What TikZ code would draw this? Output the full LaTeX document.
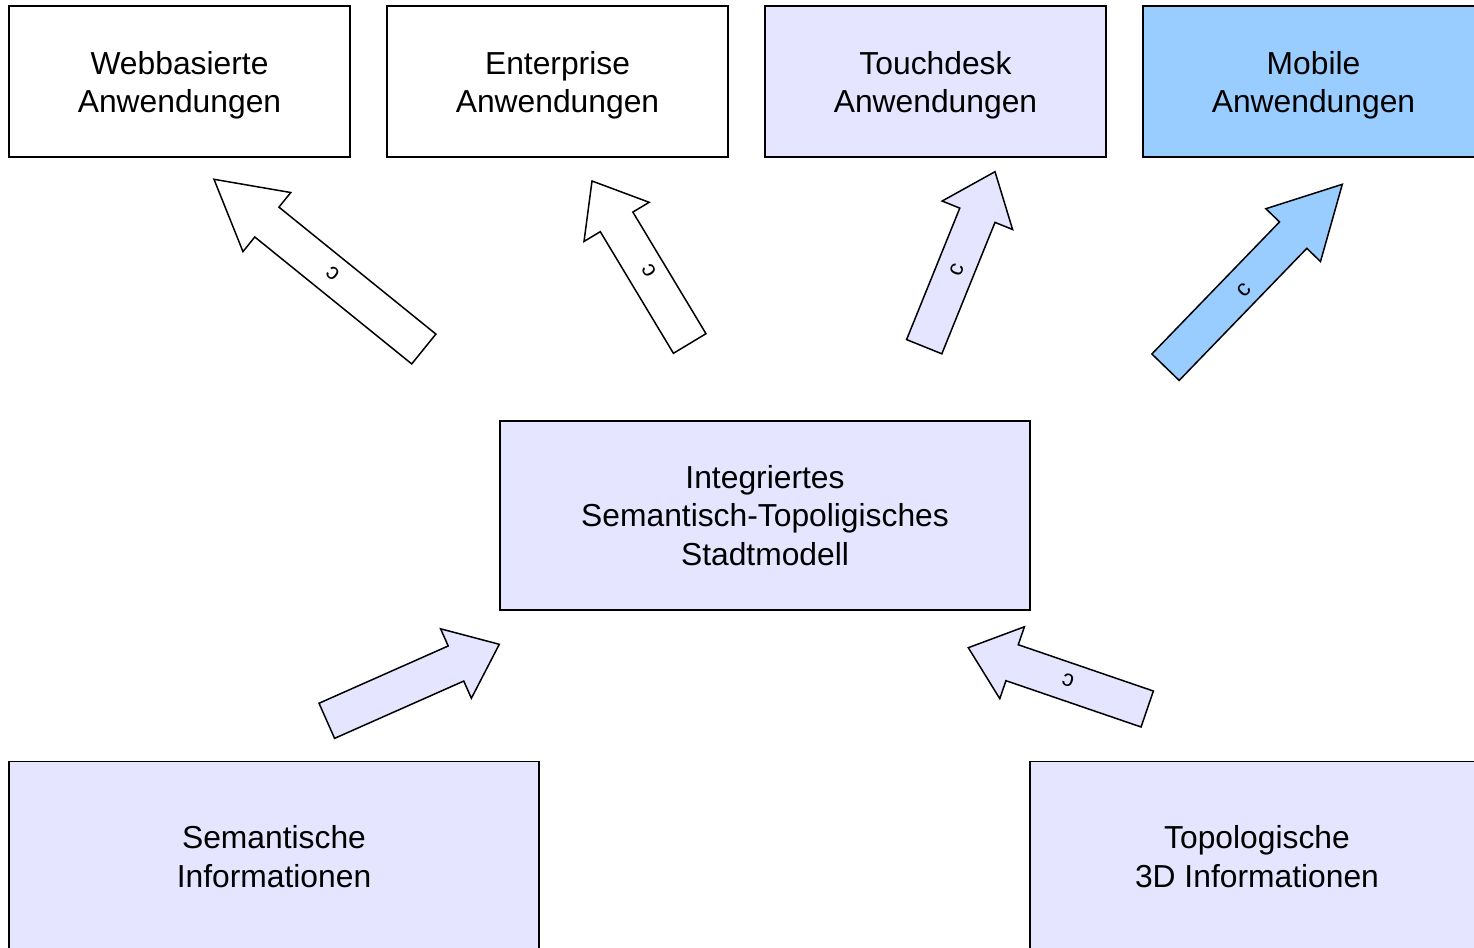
\documentclass[tikz,border=0pt]{standalone}
\usepackage{fontspec}
\setmainfont{Liberation Sans}
\usetikzlibrary{calc}
\definecolor{lav}{HTML}{E5E5FF}
\definecolor{sky}{HTML}{99CCFF}
\newcommand{\blockarr}[6]{%
  \coordinate (hb) at ($(#2)!#5!(#1)$);
  \draw[arrbody,fill=#6] ($(#1)!#3!90:(#2)$) -- ($(hb)!#3!90:(#2)$) -- ($(hb)!#4!90:(#2)$) -- (#2)
    -- ($(hb)!#4!-90:(#2)$) -- ($(hb)!#3!-90:(#2)$) -- ($(#1)!#3!-90:(#2)$) -- cycle;}
\newcommand{\topstrut}{\rule{0pt}{31pt}}
\begin{document}
\begin{tikzpicture}[x=1pt,y=-1pt,
  box/.style={draw=black,line width=1.5pt,align=center,inner sep=0pt,
    font=\fontsize{31.8}{38.5}\selectfont},
  topbox/.style={box,minimum width=341pt,minimum height=151pt},
  bigbox/.style={box,minimum height=190pt},
  arrbody/.style={draw=black,line width=1.5pt,line join=miter},
  lbl/.style={font=\fontsize{23}{25}\selectfont,inner sep=0pt}]
\useasboundingbox (0,0) rectangle (1474,947);
\clip (0,0) rectangle (1474,947);
\fill[white] (0,0) rectangle (1474,947);
% boxes
\node[topbox,fill=white] (web) at (179.5,81.5) {\topstrut Webbasierte\\Anwendungen};
\node[topbox,fill=white] (ent) at (557.5,81.5) {\topstrut Enterprise\\Anwendungen};
\node[topbox,fill=lav] (touch) at (935.5,81.5) {\topstrut Touchdesk\\Anwendungen};
\node[topbox,fill=sky] (mob) at (1313.5,81.5) {\topstrut Mobile\\Anwendungen};
\node[box,fill=lav,minimum width=530pt,minimum height=189pt] (city) at (765,515.5)
  {Integriertes\\Semantisch-Topoligisches\\Stadtmodell};
\node[bigbox,fill=lav,minimum width=530pt] (sem) at (274,856.5) {Semantische\\Informationen};
\node[bigbox,fill=lav,minimum width=454pt] (topo) at (1257,856.5) {Topologische\\3D Informationen};
% arrow end points
\coordinate (t1) at (423.8,349);   \coordinate (p1) at (214,179.3);
\coordinate (t2) at (689.7,343.5); \coordinate (p2) at (592,181);
\coordinate (t3) at (924.2,346.7); \coordinate (p3) at (995,171.7);
\coordinate (t4) at (1165.5,367.2);\coordinate (p4) at (1342.3,184.3);
\coordinate (t5) at (326.8,720.8); \coordinate (p5) at (499.3,644.3);
\coordinate (t6) at (1147.2,709);  \coordinate (p6) at (968.3,647.7);
% block arrows
\blockarr{t1}{p1}{19.2pt}{38pt}{68pt}{white}
\blockarr{t2}{p2}{19pt}{38pt}{47.7pt}{white}
\blockarr{t3}{p3}{19pt}{38pt}{47pt}{lav}
\blockarr{t4}{p4}{19pt}{38pt}{70.7pt}{sky}
\blockarr{t5}{p5}{19.2pt}{38pt}{47.4pt}{lav}
\blockarr{t6}{p6}{19pt}{38pt}{46.3pt}{lav}
% labels
\node[lbl,rotate=141] (c1) at (333.3,273.3) {c};
\node[lbl,rotate=121] (c2) at (649.3,271) {c};
\node[lbl,rotate=68] (c3) at (956.7,270) {c};
\node[lbl,rotate=46] (c4) at (1244.3,290) {c};
\node[lbl,rotate=161] (c6) at (1068.3,680) {c};
\end{tikzpicture}
\end{document}
